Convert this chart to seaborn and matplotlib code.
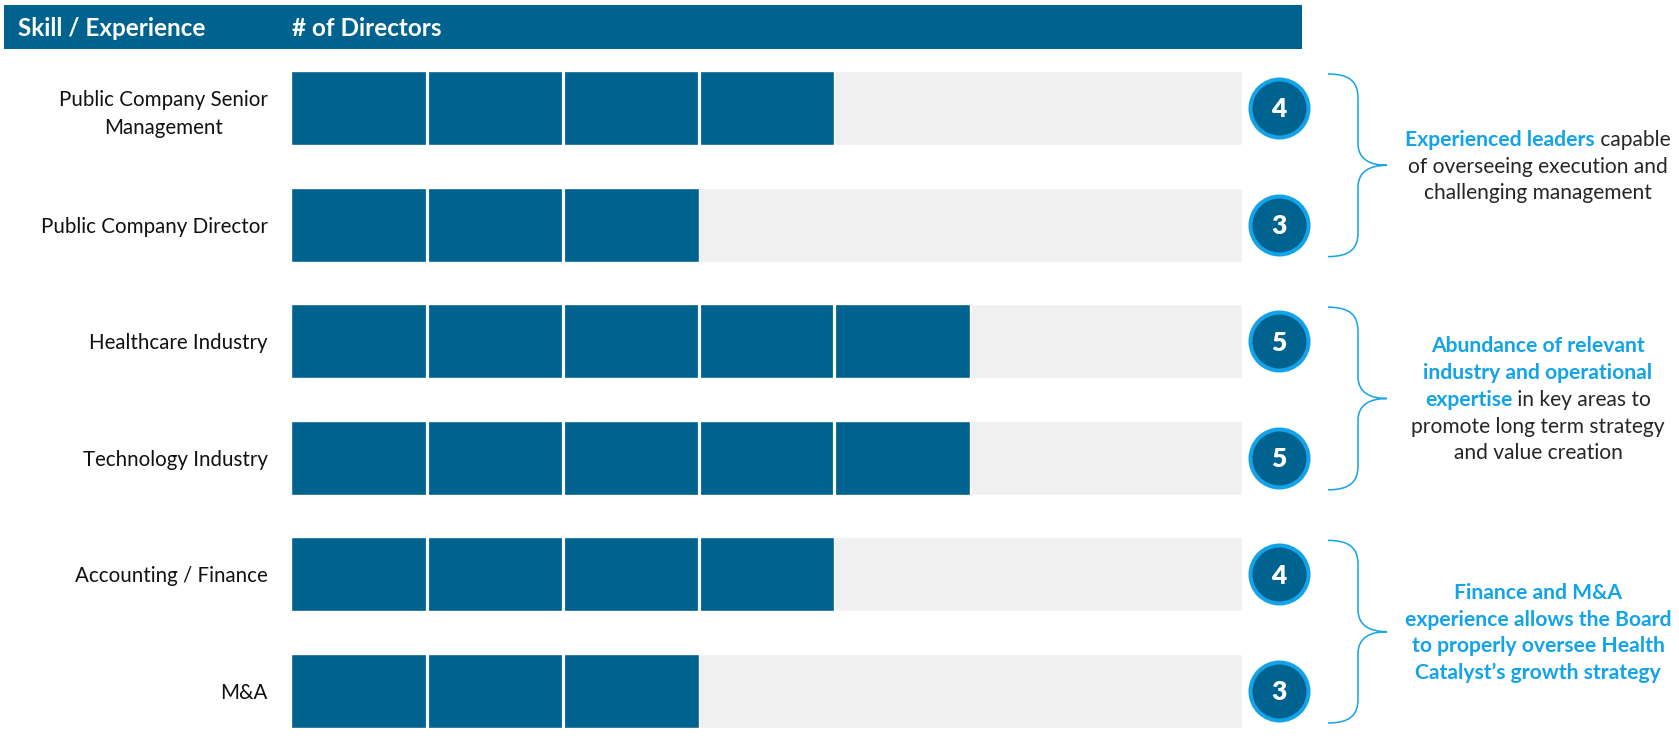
import matplotlib
matplotlib.use("Agg")
import matplotlib.pyplot as plt
import seaborn as sns
import pandas as pd
from matplotlib.path import Path
from matplotlib.patches import PathPatch, Rectangle

# ---------------- data ----------------
skills = ["Public Company Senior\nManagement", "Public Company Director",
          "Healthcare Industry", "Technology Industry",
          "Accounting / Finance", "M&A"]
directors = [4, 3, 5, 5, 4, 3]
board_size = 7
header_labels = ["Skill / Experience", "# of Directors"]
group_rows = [(0, 1), (2, 3), (4, 5)]
group_notes = [
    [[("Experienced leaders", True), (" capable", False)],
     [("of overseeing execution and", False)],
     [("challenging management", False)]],
    [[("Abundance of relevant", True)],
     [("industry and operational", True)],
     [("expertise", True), (" in key areas to", False)],
     [("promote long term strategy", False)],
     [("and value creation", False)]],
    [[("Finance and M&A", True)],
     [("experience allows the Board", True)],
     [("to properly oversee Health", True)],
     [("Catalyst\u2019s growth strategy", True)]],
]

# ---------------- style ----------------
NAVY = "#00628F"
TRACK = "#F0F0F0"
CYAN = "#12A3E8"
DARK = "#262626"

sns.set_theme(style="white")
plt.rcParams['font.family'] = ['Lato', 'DejaVu Sans']

W, H = 1679, 739
fig = plt.figure(figsize=(W / 100, H / 100), dpi=100)
renderer = fig.canvas.get_renderer()


def fitted_size(sample, target_px, weight="normal"):
    t = fig.text(0, 0, sample, fontsize=20, fontweight=weight)
    w = t.get_window_extent(renderer).width
    t.remove()
    return 20 * target_px / w


label_fs = fitted_size("Public Company Director", 227)
header_fs = fitted_size("Skill / Experience", 188, "bold")
note_fs = fitted_size("promote long term strategy", 254)
note_bold_fs = fitted_size("experience allows the Board", 266, "bold")

# geometry (pixels)
x0_px, unit_px = 291, 951 / board_size
row0_px, row_step = 108, 116.6
top_px = 50
y_top = (top_px - row0_px) / row_step
y_bot = (H - row0_px) / row_step
bar_h = 74 / row_step

df = pd.DataFrame({"skill": skills, "directors": directors,
                   "capacity": [board_size] * len(skills)})

ax = fig.add_axes([x0_px / W, 0, 951 / W, (H - top_px) / H])
sns.barplot(data=df, x="capacity", y="skill", orient="h", color=TRACK,
            saturation=1, width=bar_h, ax=ax, zorder=1)
sns.barplot(data=df, x="directors", y="skill", orient="h", color=NAVY,
            saturation=1, width=bar_h, ax=ax, zorder=2)
for i, v in enumerate(df["directors"]):
    for k in range(1, v):
        ax.vlines(k, i - bar_h / 2, i + bar_h / 2, color="white", lw=2.3, zorder=3)

ax.set_xlim(0, board_size)
ax.set_ylim(y_bot, y_top)
ax.set_xlabel("")
ax.set_ylabel("")
ax.set_xticks([])
sns.despine(ax=ax, left=True, bottom=True)
ax.tick_params(axis="y", length=0, pad=(x0_px - 268) * 0.72)
for t in ax.get_yticklabels():
    t.set_fontsize(label_fs)
    t.set_color("#111111")
    t.set_multialignment("center")
    t.set_linespacing(1.48)

# count badges
cx = (1279 - x0_px) / unit_px
ax.scatter([cx] * len(directors), range(len(directors)), s=1744, c=NAVY,
           edgecolors=CYAN, linewidths=2.9, clip_on=False, zorder=5)
badge_fs = 19
for i, v in enumerate(directors):
    ax.annotate(str(v), xy=(cx, i), xytext=(0, -0.36 * badge_fs),
                textcoords="offset points", ha="center", va="baseline",
                color="white", fontsize=badge_fs, fontweight="heavy",
                zorder=6, annotation_clip=False)

# overlay in pixel coordinates
ov = fig.add_axes([0, 0, 1, 1])
ov.set_xlim(0, W)
ov.set_ylim(H, 0)
ov.set_axis_off()

ov.add_patch(Rectangle((4, 5), 1298, 44, color=NAVY, lw=0))
ov.text(18, 27 + 0.36 * header_fs * 100 / 72, header_labels[0], color="white",
        fontsize=header_fs, fontweight="bold", ha="left", va="baseline")
ov.text(292, 27 + 0.36 * header_fs * 100 / 72, header_labels[1], color="white",
        fontsize=header_fs, fontweight="bold", ha="left", va="baseline")


def brace(ytop, ybot, xl=1328, xm=1358, xt=1387):
    ym = (ytop + ybot) / 2
    verts = [(xl, ytop), (xm - 8, ytop), (xm, ytop + 8), (xm, ytop + 24),
             (xm, ym - 22),
             (xm, ym - 6), (xm + 12, ym), (xt, ym),
             (xm + 12, ym), (xm, ym + 6), (xm, ym + 22),
             (xm, ybot - 24),
             (xm, ybot - 8), (xm - 8, ybot), (xl, ybot)]
    codes = [Path.MOVETO, Path.CURVE4, Path.CURVE4, Path.CURVE4,
             Path.LINETO,
             Path.CURVE4, Path.CURVE4, Path.CURVE4,
             Path.CURVE4, Path.CURVE4, Path.CURVE4,
             Path.LINETO,
             Path.CURVE4, Path.CURVE4, Path.CURVE4]
    ov.add_patch(PathPatch(Path(verts, codes), fill=False, edgecolor=CYAN, lw=1.1))
    return ym


text_cx = 1538
line_step = 26.8
for (r0, r1), lines in zip(group_rows, group_notes):
    ytop = row0_px + r0 * row_step - 34
    ybot = row0_px + r1 * row_step + 32
    ym = brace(ytop, ybot)
    n = len(lines)
    for li, segs in enumerate(lines):
        yc = ym + (li - (n - 1) / 2) * line_step
        objs = []
        for txt, bold in segs:
            fs = note_bold_fs if bold else note_fs
            t = ov.text(0, yc + 0.35 * fs * 100 / 72, txt, fontsize=fs,
                        fontweight="bold" if bold else "normal",
                        color=CYAN if bold else DARK, ha="left", va="baseline")
            objs.append(t)
        widths = [o.get_window_extent(renderer).width for o in objs]
        xs = text_cx - sum(widths) / 2
        for o, w in zip(objs, widths):
            o.set_x(xs)
            xs += w

fig.savefig("out.png", dpi=100)
